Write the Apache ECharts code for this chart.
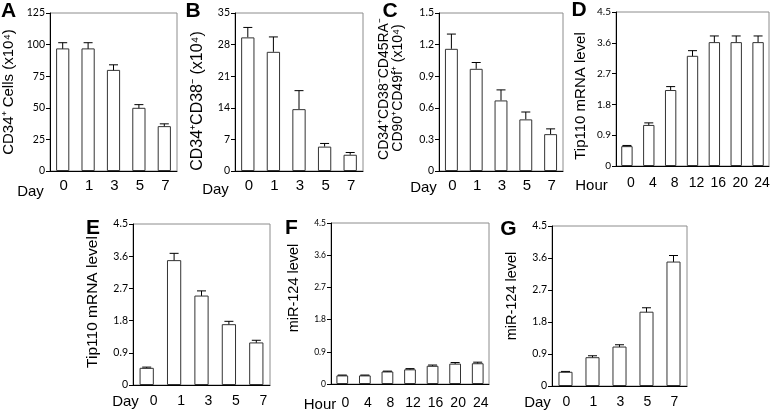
<!DOCTYPE html>
<html>
<head>
<meta charset="utf-8">
<script src="https://cdn.jsdelivr.net/npm/echarts@6/dist/echarts.min.js"></script>
<style>html,body{margin:0;padding:0;background:#fff}#c{width:777px;height:411px}</style>
</head>
<body>
<div id="c"></div>
<script>
// ---- data ----
const dayCats = ['0', '1', '3', '5', '7'];
const hourCats = ['0', '4', '8', '12', '16', '20', '24'];

const aVals = [97, 97, 80, 50, 35.5];
const aErr  = [4.5, 4.5, 4, 2.5, 1.8];
const bVals = [29.6, 26.4, 13.7, 5.4, 3.6];
const bErr  = [2.2, 3.3, 4.1, 0.7, 0.5];
const cVals = [1.16, 0.97, 0.67, 0.49, 0.35];
const cErr  = [0.14, 0.06, 0.10, 0.07, 0.05];
const dVals = [0.58, 1.2, 2.22, 3.22, 3.62, 3.62, 3.62];
const dErr  = [0.02, 0.06, 0.10, 0.15, 0.18, 0.18, 0.18];
const eVals = [0.48, 3.49, 2.5, 1.7, 1.19];
const eErr  = [0.02, 0.19, 0.13, 0.08, 0.06];
const fVals = [0.24, 0.24, 0.35, 0.41, 0.51, 0.57, 0.58];
const fErr  = [0.01, 0.01, 0.01, 0.02, 0.02, 0.03, 0.03];
const gVals = [0.40, 0.81, 1.11, 2.09, 3.5];
const gErr  = [0.01, 0.04, 0.05, 0.11, 0.17];

const aTicks = [0, 125, 25];
const bTicks = [0, 35, 7];
const cTicks = [0, 1.5, 0.3];
const mTicks = [0, 4.5, 0.9];

// ---- layout ----
const panels = [
  {cats: dayCats,  vals: aVals, err: aErr, upper: false, ticks: aTicks, grid: {left: 50,  top: 13,  width: 127, height: 158}, xfs: 15, yfs: 10.5, xm: 7,  xpad: 2},
  {cats: dayCats,  vals: bVals, err: bErr, upper: true,  ticks: bTicks, grid: {left: 235, top: 13,  width: 128, height: 158}, xfs: 15, yfs: 10.5, xm: 7,  xpad: 2},
  {cats: dayCats,  vals: cVals, err: cErr, upper: true,  ticks: cTicks, grid: {left: 439, top: 13,  width: 124, height: 158}, xfs: 15, yfs: 10.5, xm: 7,  xpad: 2},
  {cats: hourCats, vals: dVals, err: dErr, upper: false, ticks: mTicks, grid: {left: 616, top: 12,  width: 153, height: 154}, xfs: 14, yfs: 10,   xm: 10, xpad: 8},
  {cats: dayCats,  vals: eVals, err: eErr, upper: false, ticks: mTicks, grid: {left: 133, top: 224, width: 137, height: 161}, xfs: 14, yfs: 10.5, xm: 9,  xpad: 14},
  {cats: hourCats, vals: fVals, err: fErr, upper: false, ticks: mTicks, grid: {left: 331, top: 223, width: 158, height: 161}, xfs: 14, yfs: 8.5,  xm: 12, xpad: 6},
  {cats: dayCats,  vals: gVals, err: gErr, upper: false, ticks: mTicks, grid: {left: 552, top: 226, width: 135, height: 160}, xfs: 14, yfs: 10.5, xm: 9,  xpad: 2}
];

const grid = [], xAxis = [], yAxis = [], series = [];
panels.forEach((p, i) => {
  grid.push(Object.assign({show: true, borderColor: '#8c8c8c', borderWidth: 1, backgroundColor: 'transparent'}, p.grid));
  xAxis.push({
    type: 'category', gridIndex: i, data: p.cats, boundaryGap: true,
    axisLine: {lineStyle: {color: '#000', width: 1}},
    axisTick: {length: 4, lineStyle: {color: '#000'}, alignWithLabel: false},
    axisLabel: {color: '#000', fontSize: p.xfs, fontFamily: 'Liberation Sans, Arial', margin: p.xm, padding: [0, 0, 0, p.xpad]}
  });
  yAxis.push({
    type: 'value', gridIndex: i, min: p.ticks[0], max: p.ticks[1], interval: p.ticks[2],
    splitLine: {show: false},
    axisLine: {show: true, lineStyle: {color: '#000', width: 1}},
    axisTick: {show: true, length: 4, lineStyle: {color: '#000'}},
    axisLabel: {color: '#000', fontSize: p.yfs, fontFamily: 'Lato, Carlito, sans-serif', margin: 5,
      formatter: v => String(+v.toFixed(2))}
  });
  series.push({
    type: 'bar', xAxisIndex: i, yAxisIndex: i, data: p.vals, barWidth: '52%',
    itemStyle: {color: '#fff', borderColor: '#333', borderWidth: 1}, silent: true
  });
  const upper = p.upper;
  series.push({
    type: 'custom', xAxisIndex: i, yAxisIndex: i, silent: true,
    data: p.vals.map((v, k) => [k, upper ? v : v - p.err[k], v + p.err[k]]),
    encode: {x: 0, y: [1, 2]},
    renderItem: (params, api) => {
      const idx = api.value(0);
      const pLo = api.coord([idx, api.value(1)]);
      const pHi = api.coord([idx, api.value(2)]);
      const x = pLo[0], hw = 4.5;
      const st = {stroke: '#000', lineWidth: 1};
      const ch = [
        {type: 'line', shape: {x1: x, y1: pLo[1], x2: x, y2: pHi[1]}, style: st},
        {type: 'line', shape: {x1: x - hw, y1: pHi[1], x2: x + hw, y2: pHi[1]}, style: st}
      ];
      if (!upper) ch.push({type: 'line', shape: {x1: x - hw, y1: pLo[1], x2: x + hw, y2: pLo[1]}, style: st});
      return {type: 'group', children: ch};
    }
  });
});

// ---- text labels ----
const letters = [['A', 8.5, 11], ['B', 193, 11], ['C', 390, 11], ['D', 579, 10], ['E', 93, 228], ['F', 291.5, 228], ['G', 508.5, 229]];
const yNames = [
  ['CD34⁺ Cells (x10⁴)', 9, 92, 15],
  ['CD34⁺CD38⁻ (x10⁴)', 197.5, 101, 16],
  ['CD34⁺CD38⁻CD45RA⁻', 384, 89, 14],
  ['CD90⁺CD49f⁺ (x10⁴)', 398, 88, 14],
  ['Tip110 mRNA level', 581, 96, 15],
  ['Tip110 mRNA level', 92.5, 302, 15.5],
  ['miR-124 level', 294, 288, 14.5],
  ['miR-124 level', 512, 296, 14.5]
];
const xNames = [['Day', 30.5, 192], ['Day', 215.5, 190], ['Day', 423.5, 188], ['Hour', 591.5, 186], ['Day', 125.5, 402], ['Hour', 320, 405], ['Day', 537.5, 403]];

const graphic = [];
letters.forEach(l => graphic.push({type: 'text', x: l[1], y: l[2], silent: true,
  style: {text: l[0], font: 'bold 21px "Liberation Sans", Arial', fill: '#000', align: 'center', verticalAlign: 'middle'}}));
yNames.forEach(n => graphic.push({type: 'text', x: n[1], y: n[2], rotation: Math.PI / 2, silent: true,
  style: {text: n[0], font: n[3] + 'px "Liberation Sans", Arial', fill: '#000', align: 'center', verticalAlign: 'middle'}}));
xNames.forEach(n => graphic.push({type: 'text', x: n[1], y: n[2], silent: true,
  style: {text: n[0], font: '15px "Liberation Sans", Arial', fill: '#000', align: 'center', verticalAlign: 'middle'}}));

const chart = echarts.init(document.getElementById('c'), null, {renderer: 'canvas'});
chart.setOption({animation: false, backgroundColor: '#fff', grid, xAxis, yAxis, series, graphic});
</script>
</body>
</html>
